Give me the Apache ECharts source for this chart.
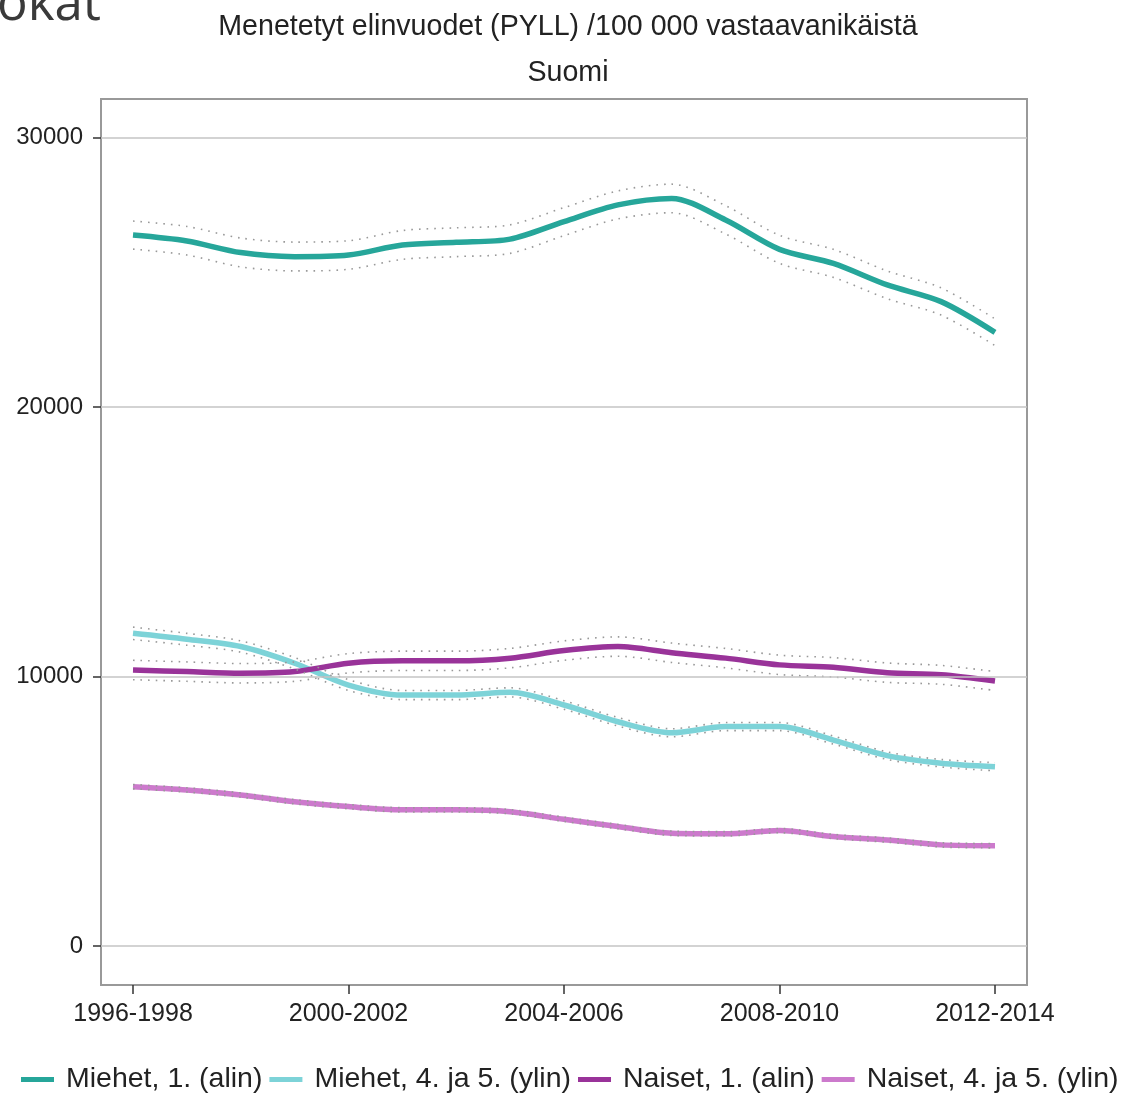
<!DOCTYPE html>
<html>
<head>
<meta charset="utf-8">
<script src="https://cdn.jsdelivr.net/npm/echarts@6/dist/echarts.min.js"></script>
<style>
html,body{margin:0;padding:0;background:#fff;}
#chart{width:1129px;height:1094px;}
</style>
</head>
<body>
<div id="chart"></div>
<script>
// Categories (3-year periods)
const categories = ['1996-1998','1997-1999','1998-2000','1999-2001','2000-2002','2001-2003','2002-2004','2003-2005','2004-2006','2005-2007','2006-2008','2007-2009','2008-2010','2009-2011','2010-2012','2011-2013','2012-2014'];
const xTickIdx = [0, 4, 8, 12, 16];
const yTicks = [0, 10000, 20000, 30000];

const seriesNames = ['Miehet, 1. (alin)', 'Miehet, 4. ja 5. (ylin)', 'Naiset, 1. (alin)', 'Naiset, 4. ja 5. (ylin)'];

// Values
const miehet1      = [26380, 26160, 25730, 25580, 25640, 26010, 26110, 26230, 26880, 27500, 27740, 26940, 25850, 25330, 24530, 23910, 22770];
const miehet1Upper = [26900, 26700, 26270, 26120, 26170, 26550, 26650, 26760, 27400, 28020, 28270, 27470, 26370, 25850, 25050, 24420, 23270];
const miehet1Lower = [25860, 25640, 25200, 25050, 25110, 25480, 25580, 25700, 26360, 26980, 27210, 26420, 25330, 24810, 24020, 23410, 22280];

const miehet45      = [11600, 11380, 11110, 10490, 9680, 9310, 9310, 9410, 8940, 8320, 7910, 8140, 8140, 7640, 7060, 6780, 6650];
const miehet45Upper = [11830, 11600, 11320, 10700, 9880, 9480, 9480, 9580, 9100, 8480, 8060, 8290, 8290, 7790, 7200, 6920, 6800];
const miehet45Lower = [11370, 11160, 10900, 10280, 9480, 9140, 9140, 9240, 8780, 8160, 7760, 7990, 7990, 7490, 6920, 6640, 6500];

const naiset1      = [10240, 10180, 10120, 10180, 10490, 10580, 10580, 10680, 10960, 11110, 10880, 10680, 10430, 10340, 10140, 10060, 9830];
const naiset1Upper = [10600, 10540, 10480, 10540, 10850, 10940, 10940, 11040, 11320, 11470, 11240, 11040, 10790, 10700, 10500, 10410, 10180];
const naiset1Lower = [9880, 9820, 9760, 9820, 10130, 10220, 10220, 10320, 10600, 10750, 10520, 10320, 10070, 9980, 9780, 9710, 9480];

const naiset45      = [5910, 5790, 5600, 5350, 5170, 5050, 5050, 4980, 4700, 4430, 4180, 4160, 4280, 4060, 3930, 3750, 3720];
const naiset45Upper = [5990, 5870, 5680, 5430, 5250, 5130, 5130, 5060, 4780, 4510, 4260, 4240, 4360, 4140, 4010, 3830, 3800];
const naiset45Lower = [5830, 5710, 5520, 5270, 5090, 4970, 4970, 4900, 4620, 4350, 4100, 4080, 4200, 3980, 3850, 3670, 3640];

const colors = ['#26A69A', '#7DD3D8', '#993399', '#CC7ACC'];
const mainData = [miehet1, miehet45, naiset1, naiset45];
const ciData = [[miehet1Upper, miehet1Lower], [miehet45Upper, miehet45Lower], [naiset1Upper, naiset1Lower], [naiset45Upper, naiset45Lower]];

const toXY = arr => arr.map((v, i) => [i, v]);
const FONT = 'Liberation Sans, Arial, sans-serif';

const series = [];
// gridline series (horizontal reference lines at the y ticks)
series.push({
  type: 'line', data: [], silent: true, z: 1,
  markLine: {
    silent: true, symbol: 'none', label: {show: false},
    lineStyle: {color: '#c4c4c4', width: 1.5, type: 'solid'},
    data: yTicks.map(v => ({yAxis: v}))
  }
});
mainData.forEach((arr, k) => {
  series.push({
    name: seriesNames[k], type: 'line', data: toXY(arr), smooth: 0.3,
    showSymbol: false, z: 3,
    lineStyle: {color: colors[k], width: 5.5},
    itemStyle: {color: colors[k]}
  });
});
ciData.forEach((pair, k) => {
  pair.forEach(arr => {
    series.push({
      type: 'line', data: toXY(arr), smooth: 0.3, showSymbol: false, z: 4, silent: true,
      lineStyle: {color: '#999', width: 1.6, type: [1.6, 6]}
    });
  });
});

const chart = echarts.init(document.getElementById('chart'));
chart.setOption({
  animation: false,
  backgroundColor: '#fff',
  title: {
    text: 'Menetetyt elinvuodet (PYLL) /100 000 vastaavanikäistä\nSuomi',
    left: 563, top: -1, textAlign: 'center',
    textStyle: {fontFamily: FONT, fontSize: 28.6, fontWeight: 'normal', color: '#222', lineHeight: 46}
  },
  graphic: [{
    type: 'text', left: -3, top: -20,
    style: {text: 'okat', font: '51px "Open Sans", "Noto Sans", sans-serif', fill: '#3a3a3a'}
  }],
  legend: {
    data: seriesNames,
    left: 16, bottom: -5,
    itemWidth: 33, itemHeight: 5, itemGap: 7,
    icon: 'rect',
    textStyle: {fontFamily: FONT, fontSize: 28.5, color: '#222', padding: [0, 0, 0, 7]}
  },
  grid: {
    left: 101, right: 102, top: 99, bottom: 109,
    show: true, borderColor: '#999', borderWidth: 2, backgroundColor: '#fff',
    containLabel: false
  },
  xAxis: {
    type: 'value', min: -0.594, max: 16.594,
    axisLine: {show: false, onZero: false},
    splitLine: {show: false},
    axisTick: {show: true, length: 9, customValues: xTickIdx, lineStyle: {color: '#333', width: 1.5}},
    axisLabel: {
      customValues: xTickIdx, margin: 17,
      formatter: v => categories[Math.round(v)],
      fontFamily: FONT, fontSize: 25, color: '#222'
    }
  },
  yAxis: {
    type: 'value', min: -1450, max: 31430,
    axisLine: {show: false, onZero: false},
    splitLine: {show: false},
    axisTick: {show: true, length: 8, customValues: yTicks, lineStyle: {color: '#333', width: 1.5}},
    axisLabel: {
      customValues: yTicks, margin: 18,
      formatter: v => String(v),
      fontFamily: FONT, fontSize: 24, color: '#222'
    }
  },
  series: series
});
</script>
</body>
</html>
